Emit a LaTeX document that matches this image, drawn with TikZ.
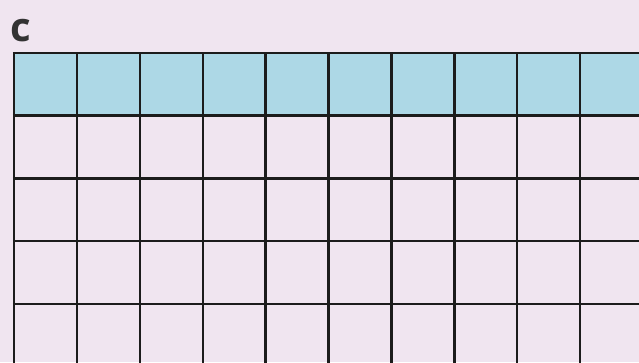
\documentclass[tikz,border=0pt]{standalone}
\usepackage{fontspec}
\setmainfont{Open Sans}
\usepackage{xcolor}
\definecolor{mybg}{HTML}{F0E5F0}
\definecolor{myblue}{HTML}{ADD8E6}
\definecolor{myline}{HTML}{1C1C1C}
\definecolor{mylabel}{HTML}{333333}

\begin{document}
\begin{tikzpicture}[x=1pt,y=-1pt]
        \useasboundingbox (0,0) rectangle (639,362);
        \fill[mybg] (0,0) rectangle (639,362);
        \clip (0,0) rectangle (639,362);
        \coordinate (corner) at (14,52.7);
        \fill[myblue] (corner) rectangle ++(640,62.8);
        
        \foreach \i in {0,...,10}
          \draw[myline, line width=2.4pt] ({14+\i*62.9},52.7) -- ({14+\i*62.9},380);
        \foreach \j in {0,...,5}
          \draw[myline, line width=2.4pt] (12.8,{52.7+\j*62.8}) -- (660,{52.7+\j*62.8});
        
        \node[mylabel, anchor=base west, inner sep=0pt, font=\fontsize{40}{40}\selectfont\bfseries] (label) at (10,41.5) {c};
      \end{tikzpicture}
\end{document}
